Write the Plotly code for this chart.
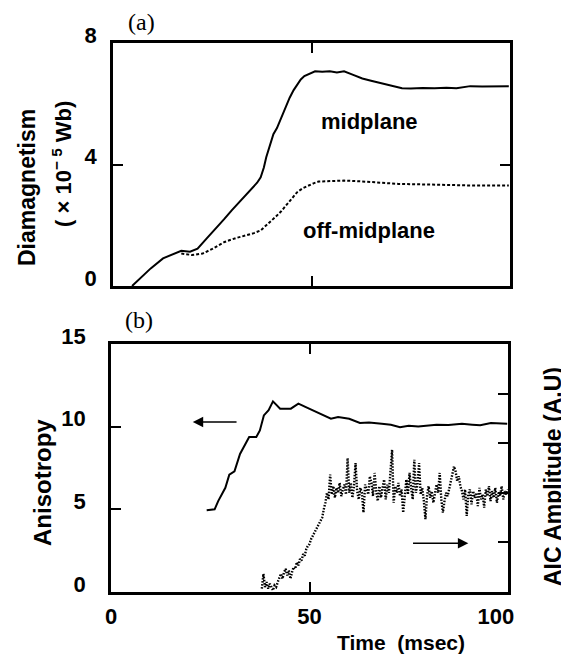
import plotly.graph_objects as go

# ---------------- data ----------------
# (a) Diamagnetism (x10^-5 Wb) vs time (msec)
MID_T = [4.8, 7.0, 9.5, 12.6, 15.0, 17.2, 19.4, 21.3, 23.5, 26.3, 28.0, 29.9, 32.0, 34.5,
         36.3, 37.2, 38.0, 38.6, 39.5, 40.4, 41.3, 42.2, 43.3, 44.5, 45.5, 46.4, 47.3, 48.2,
         49.5, 50.9, 52.7, 54.6, 56.4, 58.2, 60.5, 62.8, 65.0, 67.3, 70.0, 72.8, 75.0, 78.0,
         81.0, 84.0, 86.5, 88.0, 90.0, 93.0, 96.0, 99.7]
MID_V = [0.00, 0.28, 0.58, 0.91, 1.05, 1.16, 1.13, 1.23, 1.55, 1.94, 2.20, 2.49, 2.80, 3.14,
         3.40, 3.58, 3.90, 4.24, 4.62, 5.00, 5.20, 5.49, 5.85, 6.20, 6.45, 6.64, 6.80, 6.91,
         7.00, 7.07, 7.05, 7.07, 7.03, 7.07, 6.95, 6.83, 6.76, 6.69, 6.60, 6.51, 6.50, 6.52,
         6.51, 6.53, 6.51, 6.55, 6.58, 6.57, 6.58, 6.58]

OFF_T = [17.2, 19.9, 22.6, 25.0, 28.1, 31.0, 33.6, 35.5, 37.2, 39.0, 40.9, 42.3, 43.6, 45.0,
         46.4, 47.8, 49.1, 50.5, 51.8, 55.0, 58.2, 62.0, 65.5, 69.0, 71.9, 76.0, 81.0, 85.0,
         90.1, 95.0, 99.7]
OFF_V = [1.07, 1.02, 1.07, 1.22, 1.45, 1.58, 1.67, 1.74, 1.83, 2.03, 2.27, 2.45, 2.65, 2.87,
         3.09, 3.22, 3.31, 3.38, 3.44, 3.46, 3.47, 3.45, 3.42, 3.39, 3.36, 3.35, 3.33, 3.32,
         3.31, 3.31, 3.31]

# (b) Anisotropy vs time (msec)
ANI_T = [24.1, 26.1, 27.0, 28.8, 29.8, 31.1, 32.5, 34.8, 36.6, 37.5, 38.5, 39.7, 40.8, 42.6,
         45.3, 47.2, 49.9, 52.7, 55.4, 57.2, 60.0, 62.7, 65.0, 68.2, 70.5, 72.8, 75.0, 77.4,
         80.0, 82.0, 85.0, 88.4, 91.0, 93.0, 95.7, 99.8]
ANI_V = [4.95, 5.00, 5.50, 6.30, 7.10, 7.30, 8.35, 9.37, 9.37, 9.77, 10.68, 10.99, 11.53, 11.09,
         11.09, 11.39, 11.09, 10.78, 10.48, 10.58, 10.48, 10.22, 10.25, 10.18, 10.12, 9.97, 10.05, 10.01,
         10.08, 10.12, 10.10, 10.18, 10.12, 10.08, 10.22, 10.18]

# (b) AIC amplitude (A.U., drawn on the right axis)
AIC_T = [38.0, 38.4, 38.8, 39.2, 39.6, 40.0, 40.4, 40.8, 41.2, 41.6, 42.0, 42.4, 42.8, 43.2,
         43.6, 44.0, 44.4, 44.8, 45.2, 45.6, 46.0, 46.4, 46.8, 47.2, 47.6, 48.0, 48.4, 48.8,
         49.2, 49.6, 50.0, 50.4, 50.8, 51.2, 51.6, 52.0, 52.4, 52.8, 53.2, 53.6, 54.0, 54.4,
         54.8, 55.2, 55.6, 56.0, 56.4, 56.8, 57.2, 57.6, 58.0, 58.4, 58.8, 59.2, 59.6, 60.0,
         60.4, 60.8, 61.2, 61.6, 62.0, 62.4, 62.8, 63.2, 63.6, 64.0, 64.4, 64.8, 65.2, 65.6,
         66.0, 66.4, 66.8, 67.2, 67.6, 68.0, 68.4, 68.8, 69.2, 69.6, 70.0, 70.4, 70.8, 71.2,
         71.6, 72.0, 72.4, 72.8, 73.2, 73.6, 74.0, 74.4, 74.8, 75.2, 75.6, 76.0, 76.4, 76.8,
         77.2, 77.6, 78.0, 78.4, 78.8, 79.2, 79.6, 80.0, 80.4, 80.8, 81.2, 81.6, 82.0, 82.4,
         82.8, 83.2, 83.6, 84.0, 84.4, 84.8, 85.2, 85.6, 86.0, 86.4, 86.8, 87.2, 87.6, 88.0,
         88.4, 88.8, 89.2, 89.6, 90.0, 90.4, 90.8, 91.2, 91.6, 92.0, 92.4, 92.8, 93.2, 93.6,
         94.0, 94.4, 94.8, 95.2, 95.6, 96.0, 96.4, 96.8, 97.2, 97.6, 98.0, 98.4, 98.8, 99.2,
         99.6, 100.0]
AIC_V = [0.2, 1.1, 0.3, 0.6, 0.2, 0.5, 0.3, 0.1, 0.4, 0.3, 0.6, 0.9, 1.1, 0.8,
         1.2, 1.4, 1.0, 1.3, 0.8, 1.2, 1.5, 1.4, 1.8, 1.6, 2.0, 1.9, 2.3, 2.2,
         2.6, 2.8, 2.9, 3.2, 3.4, 3.6, 3.8, 4.0, 4.1, 4.4, 4.5, 5.0, 5.4, 6.0,
         5.6, 7.1, 5.9, 6.4, 5.7, 6.3, 6.0, 6.6, 5.8, 6.2, 6.5, 5.9, 8.1, 6.0,
         6.6, 5.7, 6.4, 7.8, 6.1, 5.6, 6.3, 6.0, 4.8, 6.5, 6.2, 5.9, 7.0, 6.6,
         5.8, 7.2, 6.1, 5.5, 6.4, 5.7, 6.3, 6.8, 5.6, 6.5, 6.0, 7.3, 8.6, 5.4,
         6.4, 6.0, 6.6, 5.8, 6.2, 4.8, 6.1, 6.8, 5.9, 7.2, 6.3, 5.6, 8.0, 6.0,
         6.5, 7.8, 5.9, 6.3, 5.5, 4.4, 5.8, 6.4, 5.7, 6.1, 5.4, 5.9, 6.5, 6.0,
         7.2, 5.6, 4.8, 5.5, 6.0, 5.8, 6.3, 6.8, 7.1, 7.6, 7.3, 6.7, 7.0, 6.4,
         6.1, 5.6, 6.2, 4.6, 5.9, 6.2, 5.3, 6.1, 5.7, 6.0, 5.2, 6.3, 5.6, 5.9,
         5.1, 6.2, 5.8, 6.4, 5.5, 6.1, 5.7, 6.3, 5.4, 6.0, 5.8, 6.4, 5.6, 6.1,
         5.9, 6.2]

X_TICKS = [0, 50, 100]
X_TICK_TEXT = ["0", "50", "100\u00a0\u00a0\u00a0\u00a0"]
YA_TICKS = [0, 4, 8]
YB_TICKS = [0, 5, 10, 15]
YB2_TICKS = [3, 6, 9, 12]

# ---------------- figure ----------------
# The page body has an 8 px margin, so the figure is laid out 8 px in from the window corner.
OFF = 8
WIN_W, WIN_H = 569, 665
W, H = WIN_W - OFF, WIN_H - OFF
SANS = "Liberation Sans, Arial, sans-serif"
BOLD = dict(family=SANS, size=22, color="black", weight="bold")

fig = go.Figure()
fig.add_trace(go.Scatter(x=MID_T, y=MID_V, mode="lines", line=dict(color="black", width=2),
                         xaxis="x", yaxis="y", showlegend=False))
fig.add_trace(go.Scatter(x=OFF_T, y=OFF_V, mode="lines",
                         line=dict(color="black", width=2, dash="3px,2px"),
                         xaxis="x", yaxis="y", showlegend=False))
fig.add_trace(go.Scatter(x=ANI_T, y=ANI_V, mode="lines", line=dict(color="black", width=2),
                         xaxis="x2", yaxis="y3", showlegend=False))
fig.add_trace(go.Scatter(x=AIC_T, y=AIC_V, mode="lines",
                         line=dict(color="black", width=2.4, dash="1.5px,1.5px"),
                         xaxis="x2", yaxis="y4", showlegend=False))

def px_x(p):
    return (p - OFF) / W

def px_y(p):
    return 1 - (p - OFF) / H

axis_common = dict(showgrid=False, zeroline=False, showline=True, linecolor="black",
                   linewidth=2.5, ticks="inside", ticklen=10, tickwidth=2,
                   tickcolor="black", tickfont=BOLD, automargin=False)

fig.update_layout(
    template="none",
    width=W, height=H, autosize=False, margin=dict(l=0, r=0, t=0, b=0, pad=0),
    paper_bgcolor="white", plot_bgcolor="rgba(0,0,0,0)",
    xaxis=dict(axis_common, domain=[px_x(113), px_x(510)], range=[0, 100], anchor="y",
               tickvals=X_TICKS, showticklabels=False, mirror="ticks"),
    yaxis=dict(axis_common, domain=[px_y(286), px_y(43)], range=[0, 8], anchor="x",
               tickvals=YA_TICKS, mirror="ticks", ticklabelshift=-8, ticklabelstandoff=9),
    xaxis2=dict(axis_common, domain=[px_x(111), px_x(508)], range=[0, 100], anchor="y3",
                tickvals=X_TICKS, ticktext=X_TICK_TEXT, mirror="ticks", ticklabelstandoff=3),
    yaxis3=dict(axis_common, domain=[px_y(592), px_y(344)], range=[0, 15], anchor="x2",
                tickvals=YB_TICKS, ticklabelshift=-8, ticklabelstandoff=18),
    yaxis4=dict(axis_common, domain=[px_y(592), px_y(344)], range=[0, 15], anchor="x2",
                overlaying="y3", side="right", tickvals=YB2_TICKS, showticklabels=False),
)

ann = []
def paper_text(text, x, y, size=21, angle=0, family=SANS, weight="bold"):
    ann.append(dict(text=text, x=px_x(x), y=px_y(y), xref="paper", yref="paper",
                    showarrow=False, textangle=angle, xanchor="center", yanchor="middle",
                    font=dict(family=family, size=size, color="black", weight=weight)))

paper_text("Diamagnetism", 27, 188, size=23, angle=-90)
paper_text("( × 10<sup>− 5</sup> Wb)", 62, 164, size=22, angle=-90)
paper_text("Anisotropy", 42, 483, size=24, angle=-90)
paper_text("AIC Amplitude (A.U)", 553, 477, size=23, angle=-90)
paper_text("Time  (msec)", 401, 642, size=21)
paper_text("(a)", 141, 22, size=24, family="Liberation Serif, Times New Roman, serif", weight="normal")
paper_text("(b)", 139, 320, size=24, family="Liberation Serif, Times New Roman, serif", weight="normal")

ann.append(dict(text="midplane", x=64.5, y=5.43, xref="x", yref="y", showarrow=False,
                font=dict(BOLD, size=22)))
ann.append(dict(text="off-midplane", x=64.5, y=1.84, xref="x", yref="y", showarrow=False,
                font=dict(BOLD, size=22)))

# arrows
ann.append(dict(x=20.6, y=10.28, ax=32.0, ay=10.28, xref="x2", yref="y3", axref="x2", ayref="y3",
                text="", showarrow=True, arrowhead=2, arrowsize=1.3, arrowwidth=1.6, arrowcolor="black"))
ann.append(dict(x=90.0, y=2.95, ax=75.7, ay=2.95, xref="x2", yref="y3", axref="x2", ayref="y3",
                text="", showarrow=True, arrowhead=2, arrowsize=1.3, arrowwidth=1.6, arrowcolor="black"))

fig.update_layout(annotations=ann)
fig.write_html("out.html")
